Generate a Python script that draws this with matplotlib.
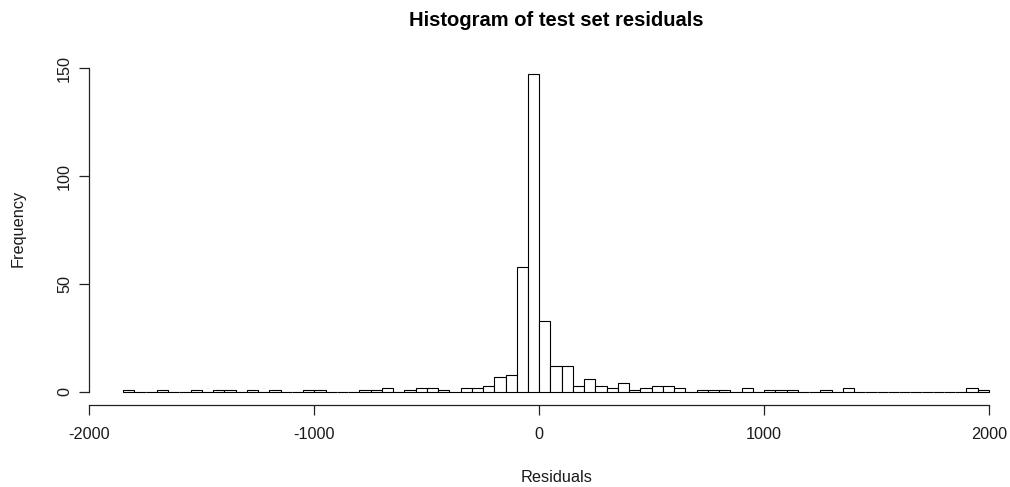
import numpy as np
import matplotlib
matplotlib.use("Agg")
import matplotlib.pyplot as plt

# histogram of test set residuals, bin width 50, first break at -1850
first_break = -1850
bin_width = 50
counts = [1, 0, 0, 1, 0, 0, 1, 0, 1, 1, 0, 1, 0, 1, 0, 0, 1, 1, 0, 0, 0,
          1, 1, 2, 0, 1, 2, 2, 1, 0, 2, 2, 3, 7, 8, 58, 147, 33, 12, 12,
          3, 6, 3, 2, 4, 1, 2, 3, 3, 2, 0, 1, 1, 1, 0, 2, 0, 1, 1, 1, 0,
          0, 1, 0, 2, 0, 0, 0, 0, 0, 0, 0, 0, 0, 0, 2, 1]
x_ticks = [-2000, -1000, 0, 1000, 2000]
y_ticks = [0, 50, 100, 150]

title = "Histogram of test set residuals"
x_label = "Residuals"
y_label = "Frequency"

plt.rcParams['font.family'] = ['Liberation Sans', 'DejaVu Sans']
plt.rcParams['axes.unicode_minus'] = False

W, H = 1010, 487
fig = plt.figure(figsize=(W / 100, H / 100), dpi=100)

breaks = first_break + bin_width * np.arange(len(counts) + 1)

# R style plot region: 4% padding on both ranges
x0, x1 = breaks[0], breaks[-1]
pad_x = 0.04 * (x1 - x0)
y_top = max(counts)
pad_y = 0.04 * y_top
xlim = (x0 - pad_x, x1 + pad_x)
ylim = (-pad_y, y_top + pad_y)

left_px, right_px = 88.6, 1023.6
bottom_px, top_px = 404.7, 61.8
ax = fig.add_axes([left_px / W, 1 - bottom_px / H,
                   (right_px - left_px) / W, (bottom_px - top_px) / H])

ax.bar(breaks[:-1], counts, width=bin_width, align='edge',
       facecolor='white', edgecolor='black', linewidth=0.8)

ax.set_xlim(*xlim)
ax.set_ylim(*ylim)
ax.set_xticks(x_ticks)
ax.set_yticks(y_ticks)
ax.spines['top'].set_visible(False)
ax.spines['right'].set_visible(False)
ax.spines['left'].set_bounds(y_ticks[0], y_ticks[-1])
ax.spines['bottom'].set_bounds(x_ticks[0], x_ticks[-1])
for s in ('left', 'bottom'):
    ax.spines[s].set_linewidth(0.9)
    ax.spines[s].set_color('#222222')

ax.tick_params(axis='both', direction='out', length=7, width=0.9,
               color='#222222', labelsize=11.7, labelcolor='#1a1a1a')
ax.tick_params(axis='x', pad=9)
ax.tick_params(axis='y', pad=5)
for lab in ax.get_yticklabels():
    lab.set_rotation(90)
    lab.set_va('center')

cx = (left_px + right_px) / 2 / W
fig.text(cx, 1 - 20 / H, title, ha='center', va='center',
         fontsize=14.5, fontweight='bold')
fig.text(cx, 1 - 477 / H, x_label, ha='center', va='center',
         fontsize=11.7, color='#1a1a1a')
fig.text(18 / W, 1 - ((top_px + bottom_px) / 2 - 5) / H, y_label,
         ha='center', va='center', rotation=90, fontsize=11.7, color='#1a1a1a')

fig.savefig('out.png', dpi=100)
plt.close(fig)
